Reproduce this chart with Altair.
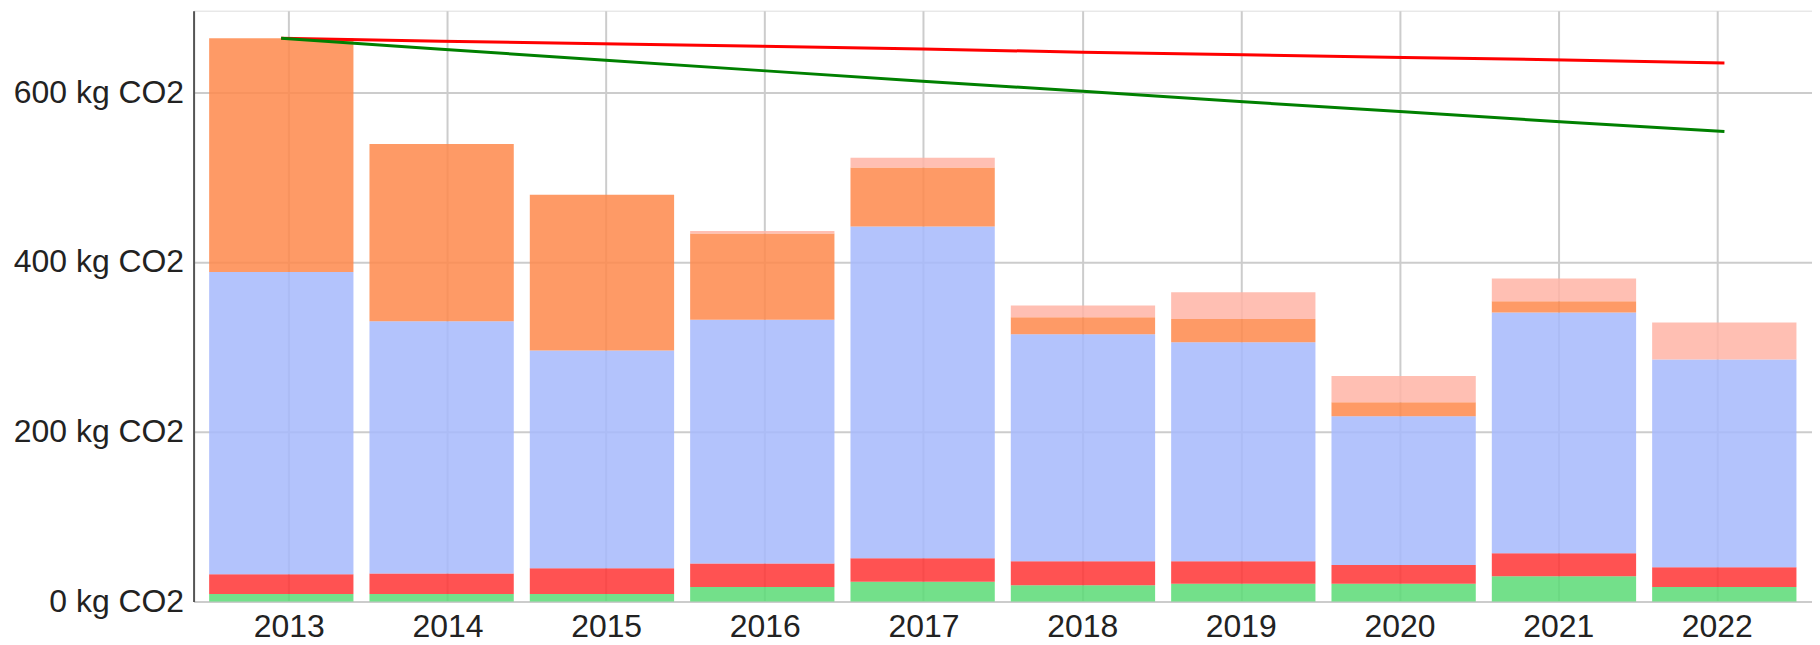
import altair as alt
import pandas as pd

years = ["2013", "2014", "2015", "2016", "2017", "2018", "2019", "2020", "2021", "2022"]

# stacked segments, bottom to top
seg_green = [8.8, 8.7, 8.7, 16.9, 23.2, 18.9, 20.8, 20.8, 29.5, 16.9]
seg_red = [23.1, 24.2, 30.3, 27.6, 27.6, 28.5, 26.6, 22.2, 27.1, 23.2]
seg_blue = [356.1, 297.1, 256.5, 287.3, 390.8, 267.5, 257.8, 175.1, 283.8, 244.9]
seg_orange = [275.5, 209.0, 183.5, 101.6, 69.6, 19.8, 27.6, 16.5, 13.3, 0.0]
seg_salmon = [0.0, 0.0, 0.0, 2.9, 11.6, 14.0, 31.4, 30.9, 26.8, 43.6]

series_names = ["S1", "S2", "S3", "S4", "S5"]
series_colors = ["#5ada75", "#ff3434", "#a6b8fb", "#fe884b", "#ffb4a6"]

# target lines
line_red = [663.5, 660.0, 657.0, 654.0, 651.0, 647.0, 644.0, 641.0, 638.0, 634.5]
line_green = [663.5, 650.5, 638.0, 625.4, 612.8, 601.2, 588.6, 577.0, 564.9, 553.8]

y_ticks = [0, 200, 400, 600]

rows = []
for i, y in enumerate(years):
    for k, (name, vals) in enumerate(zip(series_names, [seg_green, seg_red, seg_blue, seg_orange, seg_salmon])):
        rows.append({"year": y, "series": name, "value": vals[i], "ord": k})
df = pd.DataFrame(rows)

df_red = pd.DataFrame({"year": years, "value": line_red})
df_green = pd.DataFrame({"year": years, "value": line_green})
df_axis = pd.DataFrame({"year": years})

FONT = "Liberation Sans"
GRID = "#cccccc"

bars = alt.Chart(df).mark_bar(opacity=0.85).encode(
    x=alt.X("year:N", sort=years,
            scale=alt.Scale(type="band", paddingInner=0.1, paddingOuter=0.097),
            axis=None),
    y=alt.Y("value:Q", stack="zero",
            scale=alt.Scale(domain=[0, 696], nice=False, zero=True),
            axis=alt.Axis(values=y_ticks, labelExpr="datum.value + ' kg CO2'",
                          title=None, ticks=False, domainColor="#555555",
                          domainWidth=2, grid=True, gridColor=GRID, gridWidth=2,
                          labelFontSize=32, labelPadding=10, labelColor="#222222",
                          labelFont=FONT)),
    color=alt.Color("series:N", scale=alt.Scale(domain=series_names, range=series_colors),
                    legend=None),
    order=alt.Order("ord:Q"),
)

line_scale = alt.Scale(type="point", padding=0.546)

red_line = alt.Chart(df_red).mark_line(color="#ff0000", strokeWidth=3).encode(
    x=alt.X("year:N", sort=years, scale=line_scale, axis=None),
    y=alt.Y("value:Q"),
)
green_line = alt.Chart(df_green).mark_line(color="#008000", strokeWidth=3).encode(
    x=alt.X("year:N", sort=years, scale=line_scale, axis=None),
    y=alt.Y("value:Q"),
)

xaxis = alt.Chart(df_axis).mark_point(opacity=0).encode(
    x=alt.X("year:N", sort=years, scale=alt.Scale(type="point", padding=0.6),
            axis=alt.Axis(orient="bottom", title=None, labelAngle=0, ticks=False,
                          domain=False, grid=True, gridColor=GRID, gridWidth=2,
                          labelFontSize=32, labelPadding=10, labelColor="#222222",
                          labelFont=FONT)),
)

chart = alt.layer(bars, red_line, green_line, xaxis).resolve_scale(
    x="independent"
).properties(
    width=1622,
    height=592,
    autosize=alt.AutoSizeParams(type="none"),
    padding={"left": 186, "top": 2, "right": 0, "bottom": 44},
).configure_view(stroke=None).configure(font=FONT)

chart.save("out.html", embed_options={"renderer": "svg", "actions": False})
